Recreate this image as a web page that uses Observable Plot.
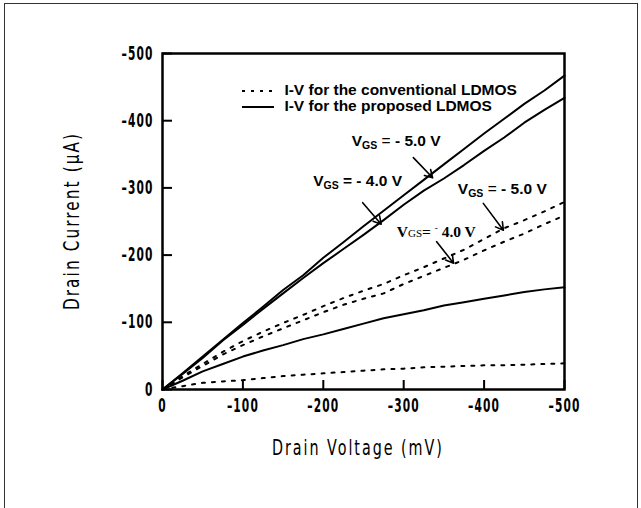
<!DOCTYPE html>
<html>
<head>
<meta charset="utf-8">
<script src="https://cdn.jsdelivr.net/npm/d3@7"></script>
<script src="https://cdn.jsdelivr.net/npm/@observablehq/plot@0.6"></script>
<style>
  html, body { margin: 0; padding: 0; background: #fff; }
  #wrap { position: relative; width: 641px; height: 508px; overflow: hidden; }
  #border { position: absolute; left: 4px; top: 3px; width: 634px; height: 520px; border: 1.5px solid #333; box-sizing: border-box; }
  .ann { position: absolute; white-space: nowrap; font-family: "Liberation Sans", Arial, sans-serif; font-weight: bold; font-size: 15.5px; color: #000; transform: translateY(-50%); line-height: 1; }
  .ann sub { font-size: 10.5px; vertical-align: -3px; }
  .ann.serif { font-family: "Liberation Serif", "Times New Roman", serif; font-size: 15.5px; }
  .ann.serif .sc { font-weight: normal; font-size: 11px; }
  #legend { position: absolute; font-family: "Liberation Sans", Arial, sans-serif; font-weight: bold; font-size: 15.5px; line-height: 16.7px; white-space: nowrap; }
  #legend svg { vertical-align: middle; margin-right: 10px; }
  .title { position: absolute; white-space: nowrap; font-family: "DejaVu Sans", sans-serif; font-size: 22px; letter-spacing: 3px; color: #000; line-height: 1; }
</style>
</head>
<body>
<div id="wrap">
  <div id="border"></div>
</div>
<script>
// Drain voltage (mV, magnitude)
const voltage = [0, 25, 50, 75, 100, 125, 150, 175, 200, 225, 250, 275, 300, 325, 350, 375, 400, 425, 450, 475, 500];
// Drain current magnitudes (uA)
const proposed5 = [0, 24, 49, 74, 99, 123, 148, 170, 196, 219, 243, 266, 289, 312, 335, 358, 381, 403, 425, 445, 467];
const proposed4 = [0, 23, 47, 73, 96, 120, 143, 166, 188, 209, 230, 252, 275, 296, 314, 334, 355, 375, 397, 416, 434];
const proposedLow = [0, 13, 27, 38, 49, 58, 66, 75, 82, 90, 98, 106, 112, 118, 125, 130, 135, 140, 145, 149, 152];
const conventional5 = [0, 20, 38, 56, 72, 86, 99, 111, 124, 136, 147, 157, 170, 182, 195, 208, 224, 240, 252, 265, 279];
const conventional4 = [0, 18, 35, 52, 66, 79, 91, 103, 115, 126, 135, 143, 157, 169, 181, 193, 207, 220, 232, 246, 259];
const conventionalLow = [0, 5, 10, 12, 14, 17, 20, 22, 24, 26, 28, 30, 31, 33, 34, 35, 36, 36, 37, 38, 39];

const xTicks = [0, -100, -200, -300, -400, -500];
const yTicks = [0, -100, -200, -300, -400, -500];

const legendLabels = ["I-V for the conventional LDMOS", "I-V for the proposed LDMOS"];
const legendAnchor = { V: -100, I: -445 };

// annotations: text anchor (left edge, vertical centre) and arrow in data units
const annotLabels = [
  { html: 'V<sub>GS</sub> <span style="font-weight:normal">=</span> - 5.0 V', serif: false, V: -236, I: -368, V1: -312, I1: -345, V2: -336, I2: -315 },
  { html: 'V<sub>GS</sub> = - 4.0 V', serif: false, V: -188, I: -308, V1: -249, I1: -278, V2: -272, I2: -246 },
  { html: 'V<sub>GS</sub> <span style="font-weight:normal">=</span> - 5.0 V', serif: false, V: -368, I: -296, V1: -399, I1: -277, V2: -424, I2: -237 },
  { html: 'V<span class="sc">GS</span>= <sup style="font-size:9px">-</sup> 4.0 V', serif: true, V: -292, I: -234, V1: -341, I1: -220, V2: -362, I2: -188 }
];

const series = [
  { name: "conv5", dotted: true, values: conventional5 },
  { name: "conv4", dotted: true, values: conventional4 },
  { name: "convLow", dotted: true, values: conventionalLow },
  { name: "prop5", dotted: false, values: proposed5 },
  { name: "prop4", dotted: false, values: proposed4 },
  { name: "propLow", dotted: false, values: proposedLow }
];
const rows = series.flatMap(s => voltage.map((v, i) => ({ V: -v, I: -s.values[i], name: s.name, dotted: s.dotted })));

const W = 641, H = 508;
const mL = 162, mR = 77, mT = 53, mB = 119;
const fmt = d => d === 0 ? "0" : "\u2013" + Math.abs(d);

const chart = Plot.plot({
  width: W, height: H,
  marginLeft: mL, marginRight: mR, marginTop: mT, marginBottom: mB,
  style: { background: "transparent", overflow: "visible" },
  x: { domain: [0, -500], axis: null },
  y: { domain: [0, -500], axis: null },
  marks: [
    Plot.line(rows.filter(d => d.dotted), { x: "V", y: "I", z: "name", stroke: "black", strokeWidth: 2, strokeDasharray: "3,7" }),
    Plot.line(rows.filter(d => !d.dotted), { x: "V", y: "I", z: "name", stroke: "black", strokeWidth: 2 }),
    Plot.arrow(annotLabels, { x1: "V1", y1: "I1", x2: "V2", y2: "I2", stroke: "black", strokeWidth: 1.6, headLength: 8 }),
    Plot.tickX(xTicks, { x: d => d, insetTop: H - mT - mB - 9, stroke: "black", strokeWidth: 2 }),
    Plot.tickY(yTicks, { y: d => d, insetRight: W - mL - mR - 10, stroke: "black", strokeWidth: 2 }),
    Plot.axisX(xTicks, { tickSize: 0, tickPadding: 9, tickFormat: fmt, fontSize: 19 }),
    Plot.axisY(yTicks, { tickSize: 0, tickPadding: 9, tickFormat: fmt, fontSize: 19 }),
    Plot.frame({ stroke: "black", strokeWidth: 2.5 })
  ]
});
chart.querySelectorAll('g[aria-label$="tick label"] text').forEach(t => {
  t.setAttribute("font-family", '"DejaVu Sans", sans-serif');
  t.setAttribute("font-weight", "bold");
  t.setAttribute("letter-spacing", "2");
  t.setAttribute("fill", "#000");
  const tr = t.getAttribute("transform") || "";
  t.setAttribute("transform", (tr + " scale(0.56,1)").trim());
});
const wrap = document.getElementById("wrap");
chart.style.position = "absolute";
chart.style.left = "0px";
chart.style.top = "0px";
wrap.appendChild(chart);

const xs = chart.scale("x"), ys = chart.scale("y");

// legend
const lg = document.createElement("div");
lg.id = "legend";
lg.style.left = xs.apply(legendAnchor.V) + "px";
lg.style.top = (ys.apply(legendAnchor.I) - 8.35) + "px";
lg.innerHTML = legendLabels.map((l, i) =>
  `<div><svg width="32" height="6"><line x1="0" x2="32" y1="3" y2="3" stroke="black" stroke-width="2" ${i === 0 ? 'stroke-dasharray="3,6"' : ''}/></svg>${l}</div>`).join("");
wrap.appendChild(lg);

// annotations
annotLabels.forEach(a => {
  const d = document.createElement("div");
  d.className = "ann" + (a.serif ? " serif" : "");
  d.innerHTML = a.html;
  d.style.left = xs.apply(a.V) + "px";
  d.style.top = ys.apply(a.I) + "px";
  wrap.appendChild(d);
});

// axis titles
const xt = document.createElement("div");
xt.className = "title";
xt.textContent = "Drain Voltage (mV)";
wrap.appendChild(xt);
const xsx = 172 / xt.offsetWidth;
xt.style.left = (358 - xt.offsetWidth / 2) + "px";
xt.style.top = (448 - xt.offsetHeight / 2) + "px";
xt.style.transform = `scaleX(${xsx})`;

const yt = document.createElement("div");
yt.className = "title";
yt.textContent = "Drain Current (\u00b5A)";
wrap.appendChild(yt);
const ysx = 178 / yt.offsetWidth;
const cy = (mT + (H - mB)) / 2;
yt.style.left = (72 - yt.offsetWidth / 2) + "px";
yt.style.top = (cy - yt.offsetHeight / 2) + "px";
yt.style.transform = `rotate(-90deg) scaleX(${ysx})`;
</script>
</body>
</html>
